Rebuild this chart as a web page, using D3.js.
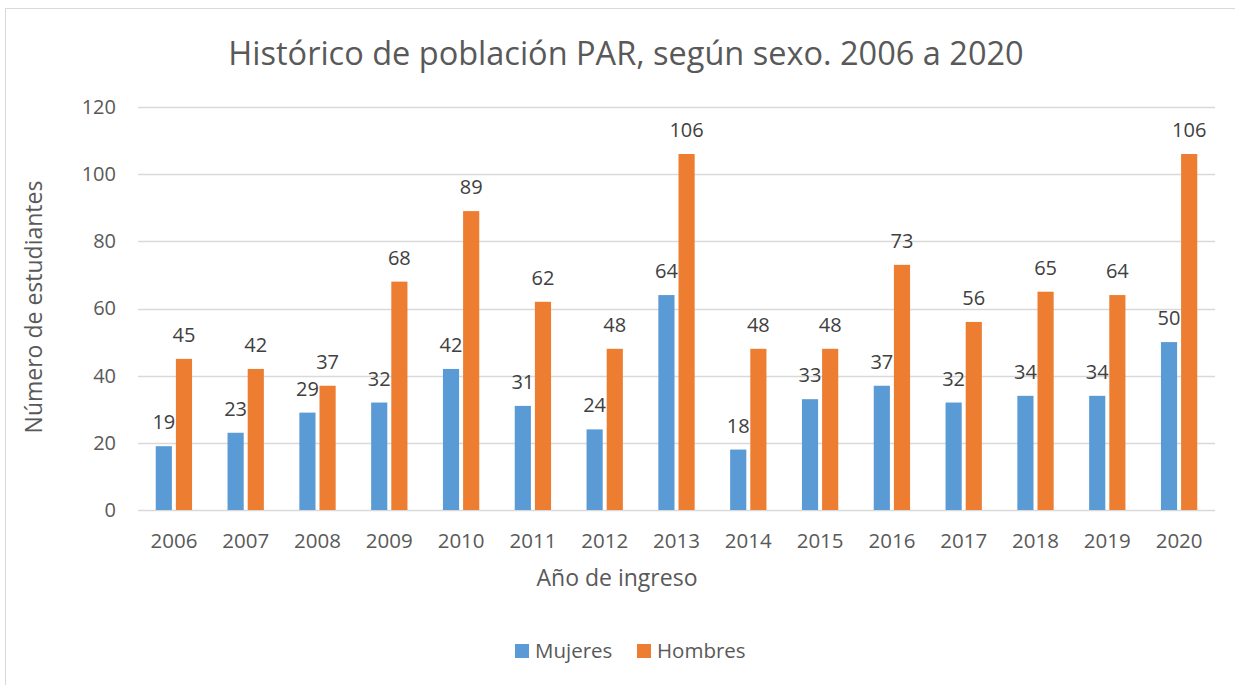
<!DOCTYPE html>
<html>
<head>
<meta charset="utf-8">
<script src="https://cdn.jsdelivr.net/npm/d3@7"></script>
<style>
  html, body { margin: 0; padding: 0; background: #fff; }
  svg { display: block; font-family: "Open Sans", "Noto Sans", sans-serif; }
</style>
</head>
<body>
<svg id="chart" width="1235" height="685"></svg>
<script>
const years = ["2006","2007","2008","2009","2010","2011","2012","2013","2014","2015","2016","2017","2018","2019","2020"];
const mujeres = [19,23,29,32,42,31,24,64,18,33,37,32,34,34,50];
const hombres = [45,42,37,68,89,62,48,106,48,48,73,56,65,64,106];
const seriesNames = ["Mujeres","Hombres"];
const seriesColors = ["#5B9BD5","#ED7D31"];
const yTicks = [0,20,40,60,80,100,120];

const svg = d3.select("#chart");
const textColor = "#595959";

// chart border
svg.append("rect").attr("x",5.5).attr("y",8.5).attr("width",1240).attr("height",690)
  .attr("fill","#fff").attr("stroke","#D9D9D9").attr("stroke-width",1);

const pLeft = 138, pRight = 1215, pTop = 107, pBottom = 510;

const x = d3.scaleBand().domain(years).range([pLeft,pRight]).paddingInner(0).paddingOuter(0);
const y = d3.scaleLinear().domain([0,120]).range([pBottom, pTop]);

// gridlines
svg.append("g").selectAll("line").data(yTicks).join("line")
  .attr("x1",pLeft).attr("x2",pRight)
  .attr("y1",d=>Math.round(y(d))+0.5).attr("y2",d=>Math.round(y(d))+0.5)
  .attr("stroke","#D9D9D9").attr("stroke-width",1.3);

// y axis labels
const yAxis = d3.axisLeft(y).tickValues(yTicks).tickSize(0).tickPadding(22);
const gy = svg.append("g").attr("transform",`translate(${pLeft},0)`).call(yAxis);
gy.select(".domain").remove();
gy.selectAll("text").attr("fill",textColor).style("font-size","20px").attr("font-family","'Open Sans', sans-serif");

// x axis labels
const xAxis = d3.axisBottom(x).tickSize(0).tickPadding(23);
const gx = svg.append("g").attr("transform",`translate(0,${pBottom})`).call(xAxis);
gx.select(".domain").remove();
gx.selectAll("text").attr("fill",textColor).style("font-size","20.5px").attr("font-family","'Open Sans', sans-serif");

// bars
const bw = x.bandwidth();
const barW = bw * 0.225;
const gap = 4;
const series = [mujeres, hombres];
series.forEach((vals, si) => {
  const g = svg.append("g");
  const xOff = (i) => x(years[i]) + bw/2 + (si === 0 ? -gap/2 - barW : gap/2);
  g.selectAll("rect").data(vals).join("rect")
    .attr("x",(d,i)=>xOff(i))
    .attr("y",d=>y(d))
    .attr("width",barW)
    .attr("height",d=>y(0)-y(d))
    .attr("fill",seriesColors[si]);
  g.selectAll("text").data(vals).join("text")
    .attr("x",(d,i)=>xOff(i)+barW/2)
    .attr("y",d=>y(d)-17)
    .attr("text-anchor","middle")
    .attr("fill","#404040")
    .style("font-size","20px")
    .text(d=>d);
});

// title
svg.append("text").attr("x",626).attr("y",65).attr("text-anchor","middle")
  .attr("fill",textColor).style("font-size","32.5px").text("Histórico de población PAR, según sexo. 2006 a 2020");

// axis titles
svg.append("text").attr("transform",`translate(42,307) rotate(-90)`)
  .attr("text-anchor","middle").attr("fill",textColor).style("font-size","23px").text("Número de estudiantes");
svg.append("text").attr("x",617).attr("y",586).attr("text-anchor","middle")
  .attr("fill",textColor).style("font-size","23px").text("Año de ingreso");

// legend
const legX = [515, 637];
seriesNames.forEach((n,i)=>{
  svg.append("rect").attr("x",legX[i]).attr("y",644).attr("width",14).attr("height",14).attr("fill",seriesColors[i]);
  svg.append("text").attr("x",legX[i]+20).attr("y",658).attr("fill",textColor).style("font-size","20.5px").text(n);
});
</script>
</body>
</html>
